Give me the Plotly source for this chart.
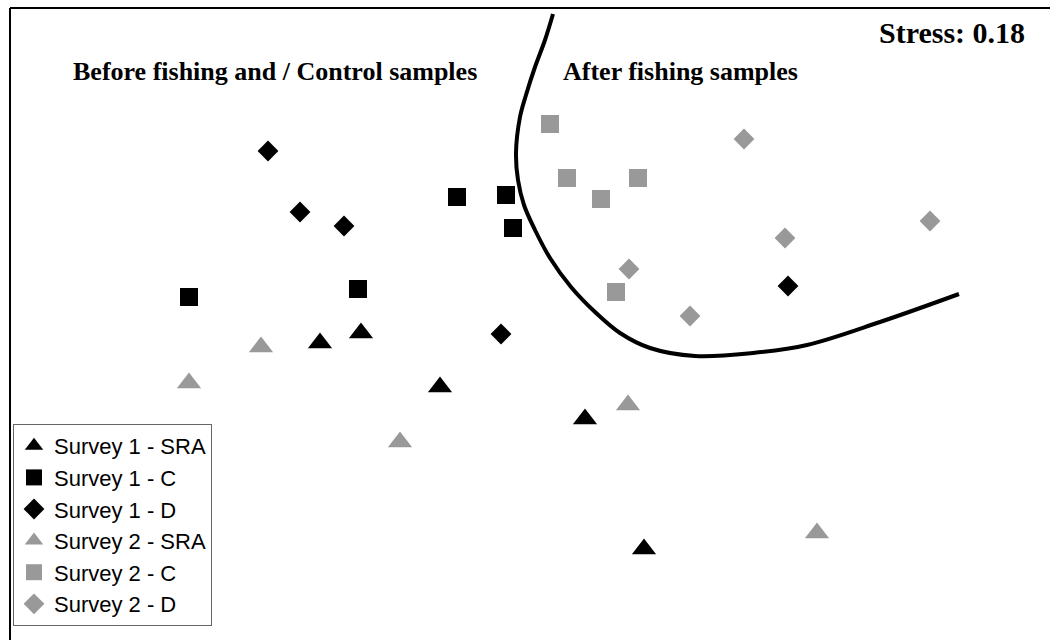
import plotly.graph_objects as go

# NMDS ordination coordinates (arbitrary units; y grows downward)
s1_sra_x = [320, 361, 440, 585, 644]
s1_sra_y = [343, 333, 387, 419, 549]
s1_c_x = [189, 358, 457, 506, 513]
s1_c_y = [297, 289, 197, 195, 228]
s1_d_x = [268, 300, 344, 501, 788]
s1_d_y = [151, 212, 226, 334, 286]
s2_sra_x = [189, 261, 400, 628, 817]
s2_sra_y = [383, 347, 442, 405, 533]
s2_c_x = [550, 567, 601, 638, 616]
s2_c_y = [124, 178, 199, 178, 292]
s2_d_x = [744, 930, 785, 629, 690]
s2_d_y = [139, 221, 238, 269, 316]

# hand-drawn separating curve
curve_x = [553, 545, 535, 526, 520, 516, 518, 524, 535, 550, 571, 595, 620, 650, 695, 753, 807, 880, 959]
curve_y = [14, 40, 67, 95, 117, 153, 180, 205, 230, 258, 287, 312, 333, 348, 356, 353, 345, 322, 294]

BLACK = "#000000"
GREY = "#999999"

series = [
    ("Survey 1 - SRA", s1_sra_x, s1_sra_y, "triangle-up", BLACK, 21),
    ("Survey 1 - C", s1_c_x, s1_c_y, "square", BLACK, 18),
    ("Survey 1 - D", s1_d_x, s1_d_y, "diamond", BLACK, 16),
    ("Survey 2 - SRA", s2_sra_x, s2_sra_y, "triangle-up", GREY, 21),
    ("Survey 2 - C", s2_c_x, s2_c_y, "square", GREY, 18),
    ("Survey 2 - D", s2_d_x, s2_d_y, "diamond", GREY, 16),
]

fig = go.Figure()

fig.add_trace(go.Scatter(
    x=curve_x, y=curve_y, mode="lines", showlegend=False, hoverinfo="skip",
    line=dict(color=BLACK, width=4, shape="spline", smoothing=1.0),
))

for name, xs, ys, sym, col, sz in series:
    fig.add_trace(go.Scatter(
        x=xs, y=ys, mode="markers", name=name,
        marker=dict(symbol=sym, color=col, size=sz, line=dict(width=0)),
    ))

title_font = dict(family="Liberation Serif, Times New Roman, serif", color=BLACK)

fig.add_annotation(x=1027, y=32, xref="x", yref="y", text="<b>Stress: 0.18</b>",
                   showarrow=False, xanchor="right", yanchor="middle",
                   font=dict(size=30, **title_font))
fig.add_annotation(x=71, y=71, xref="x", yref="y", text="<b>Before fishing and / Control samples</b>",
                   showarrow=False, xanchor="left", yanchor="middle",
                   font=dict(size=26, **title_font))
fig.add_annotation(x=561, y=71, xref="x", yref="y", text="<b>After fishing samples</b>",
                   showarrow=False, xanchor="left", yanchor="middle",
                   font=dict(size=26, **title_font))

# frame (left and top edges visible; right/bottom are outside the picture)
fig.add_shape(type="line", xref="paper", yref="paper", x0=10/1050, x1=10/1050, y0=0, y1=1 - 8/640,
              line=dict(color=BLACK, width=2))
fig.add_shape(type="line", xref="paper", yref="paper", x0=10/1050, x1=1, y0=1 - 8/640, y1=1 - 8/640,
              line=dict(color=BLACK, width=2))

fig.update_layout(
    width=1050, height=640,
    margin=dict(l=0, r=0, t=0, b=0),
    paper_bgcolor="white", plot_bgcolor="white",
    xaxis=dict(range=[0, 1050], visible=False, fixedrange=True),
    yaxis=dict(range=[640, 0], visible=False, fixedrange=True),
    showlegend=True,
    legend=dict(
        x=13/1050, y=1 - 424/640, xanchor="left", yanchor="top",
        bgcolor="white", bordercolor="#666666", borderwidth=1,
        font=dict(family="Liberation Sans, Arial, sans-serif", size=22, color=BLACK),
        tracegroupgap=0, itemwidth=30,
    ),
)

fig.write_html("out.html", config={"displayModeBar": False},
               post_script="document.body.style.margin='0';document.body.style.overflow='hidden';")
